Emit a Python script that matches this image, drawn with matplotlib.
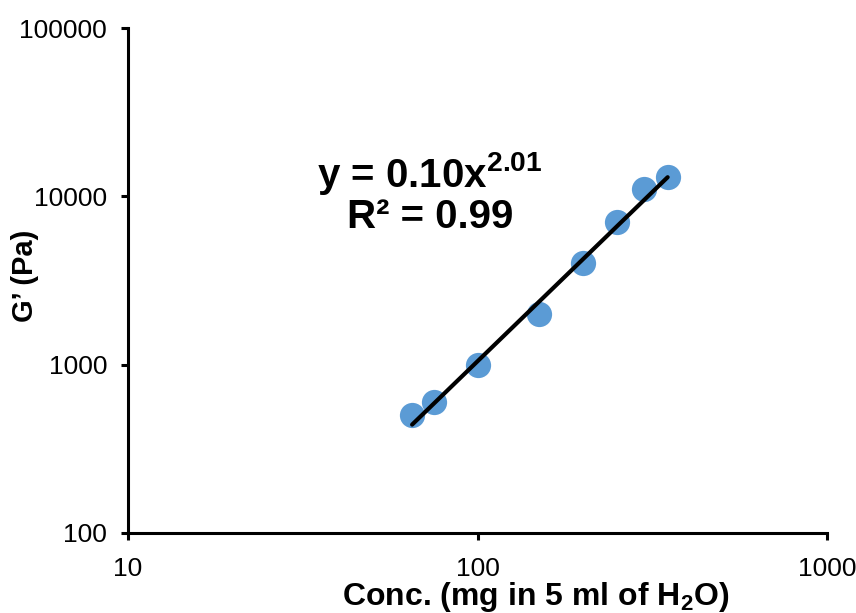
import numpy as np
import matplotlib
matplotlib.use("Agg")
import matplotlib.pyplot as plt
from matplotlib.ticker import FixedLocator, FixedFormatter, NullLocator

plt.rcParams['font.family'] = ['Liberation Sans', 'DejaVu Sans']
plt.rcParams['mathtext.fontset'] = 'custom'
plt.rcParams['mathtext.rm'] = 'Liberation Sans'
plt.rcParams['mathtext.it'] = 'Liberation Sans:italic'
plt.rcParams['mathtext.bf'] = 'Liberation Sans:bold'
plt.rcParams['mathtext.bfit'] = 'Liberation Sans:bold:italic'

conc = [65, 75, 100, 150, 200, 250, 300, 350]
gprime = [500, 600, 1000, 2000, 4000, 7000, 11000, 13000]
fit_a = 0.10
fit_b = 2.01
x_ticks = [10, 100, 1000]
x_tick_labels = ['10', '100', '1000']
y_ticks = [100, 1000, 10000, 100000]
y_tick_labels = ['100', '1000', '10000', '100000']

fig = plt.figure(figsize=(8.56, 6.13), dpi=100)
ax = fig.add_axes([128/856, 1-533/613, 699/856, 505/613])

ax.scatter(conc, gprime, s=330, color='#5B9BD5', zorder=2, linewidths=0)
xf = np.geomspace(min(conc), max(conc), 50)
ax.plot(xf, fit_a * xf**fit_b, color='black', lw=3, zorder=3, solid_capstyle='round')

ax.set_xscale('log')
ax.set_yscale('log')
ax.set_xlim(10, 1000)
ax.set_ylim(100, 100000)
ax.xaxis.set_major_locator(FixedLocator(x_ticks))
ax.xaxis.set_major_formatter(FixedFormatter(x_tick_labels))
ax.yaxis.set_major_locator(FixedLocator(y_ticks))
ax.yaxis.set_major_formatter(FixedFormatter(y_tick_labels))
ax.xaxis.set_minor_locator(NullLocator())
ax.yaxis.set_minor_locator(NullLocator())

for s in ['top', 'right']:
    ax.spines[s].set_visible(False)
for s in ['left', 'bottom']:
    ax.spines[s].set_linewidth(2.2)
ax.tick_params(axis='both', which='major', direction='out', length=5, width=2.2,
               labelsize=19, colors='black')
ax.tick_params(axis='x', pad=12)
ax.tick_params(axis='y', pad=10)

ax.set_xlabel('Conc. (mg in 5 ml of H$_\\mathbf{2}$O)', fontsize=23, fontweight='bold')
ax.xaxis.set_label_coords((536-128)/699, -(597-533)/505)
ax.xaxis.label.set_va('center')
ax.set_ylabel('G’ (Pa)', fontsize=21, fontweight='bold')
ax.yaxis.set_label_coords(-(128-25)/699, (533-276)/505)
ax.yaxis.label.set_va('center')

ax.text((430-128)/699, (533-187)/505, r'y = 0.10x$^{\mathbf{2.01}}$', transform=ax.transAxes,
        fontsize=29, fontweight='bold', ha='center', va='baseline')
ax.text((430-128)/699, (533-228)/505, 'R² = 0.99', transform=ax.transAxes, fontsize=29,
        fontweight='bold', ha='center', va='baseline')

fig.savefig('out.png', dpi=100)
